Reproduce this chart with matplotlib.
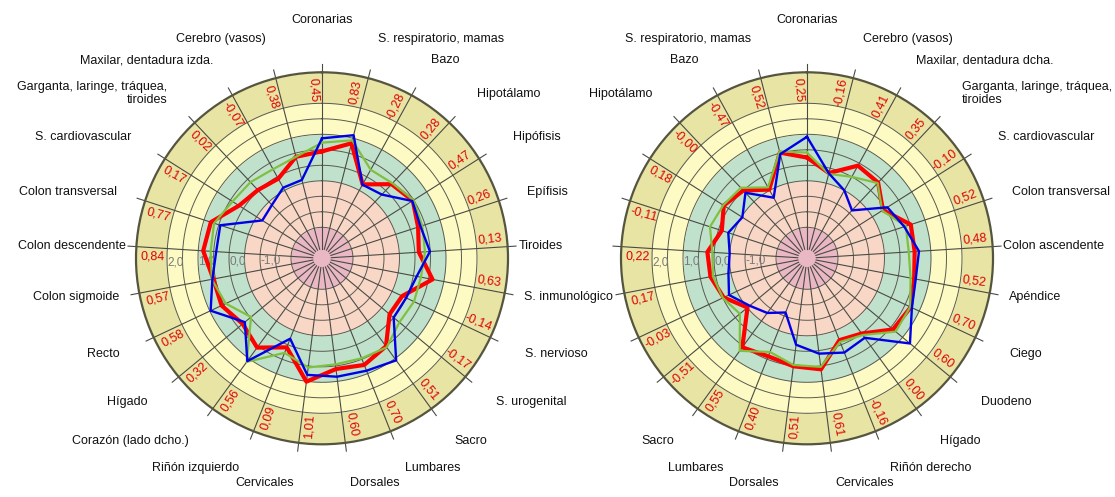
import numpy as np
import matplotlib.pyplot as plt

plt.rcParams['font.family'] = ['Liberation Sans', 'DejaVu Sans']

# left chart: categories clockwise from the top
left_labels = ['Coronarias', 'S. respiratorio, mamas', 'Bazo', 'Hipotálamo', 'Hipófisis',
               'Epífisis', 'Tiroides', 'S. inmunológico', 'S. nervioso', 'S. urogenital',
               'Sacro', 'Lumbares', 'Dorsales', 'Cervicales', 'Riñón izquierdo',
               'Corazón (lado dcho.)', 'Hígado', 'Recto', 'Colon sigmoide', 'Colon descendente',
               'Colon transversal', 'S. cardiovascular', 'Garganta, laringe, tráquea,\ntiroides',
               'Maxilar, dentadura izda.', 'Cerebro (vasos)']
left_red = [0.45, 0.83, -0.28, 0.28, 0.47, 0.26, 0.13, 0.63, -0.14, -0.17, 0.51, 0.70, 0.60,
            1.01, 0.09, 0.56, 0.32, 0.58, 0.57, 0.84, 0.77, 0.17, 0.02, -0.07, 0.38]
left_green = [0.73, 0.93, 0.26, 0.32, 0.50, 0.40, 0.33, 0.25, 0.28, 0.24, 0.55, 0.47, 0.45,
              0.55, 0.28, 1.13, -0.03, 0.43, 0.62, 0.60, 0.66, 0.42, 0.37, 0.28, 0.38]
left_blue = [0.87, 1.10, -0.29, -0.18, 0.45, 0.34, 0.49, 0.11, 0.00, 0.00, 1.07, 0.90, 0.85,
             0.79, -0.21, 1.10, 0.23, 0.97, 0.60, 0.42, 0.45, -0.72, -0.64, -0.40, -0.39]

# right chart
right_labels = ['Coronarias', 'Cerebro (vasos)', 'Maxilar, dentadura dcha.',
                'Garganta, laringe, tráquea,\ntiroides', 'S. cardiovascular', 'Colon transversal',
                'Colon ascendente', 'Apéndice', 'Ciego', 'Duodeno', 'Hígado', 'Riñón derecho',
                'Cervicales', 'Dorsales', 'Lumbares', 'Sacro', 'S. urogenital', 'S. nervioso',
                'S. inmunológico', 'Tiroides', 'Epífisis', 'Hipófisis', 'Hipotálamo', 'Bazo',
                'S. respiratorio, mamas']
right_red = [0.25, -0.16, 0.41, 0.35, -0.10, 0.52, 0.48, 0.52, 0.70, 0.60, 0.00, -0.16, 0.61,
             0.51, 0.40, 0.55, -0.51, -0.03, 0.17, 0.22, -0.11, 0.18, -0.00, -0.47, 0.52]
right_green = [0.41, -0.19, 0.00, 0.33, -0.13, 0.35, 0.29, 0.40, 0.68, 0.71, 0.06, -0.10, 0.53,
               0.47, 0.25, 0.69, -0.19, 0.00, 0.09, 0.06, 0.29, 0.20, 0.12, -0.39, 0.56]
right_blue = [0.92, -0.17, -0.50, -0.88, 0.07, 0.30, 0.62, 0.57, 0.74, 1.31, 0.17, 0.27, 0.10,
              -0.19, -1.12, -0.82, -0.60, -0.22, -0.42, -0.50, -0.33, -0.53, -0.10, -0.77, 0.47]

scale_ticks = [2.0, 1.0, 0.0, -1.0]
band_edges = [-3.0, -2.0, -0.5, 1.0, 2.0, 3.0]
band_colors = ['#e9b8c4', '#f9d7c7', '#c0e2cc', '#fdfbc3', '#e8e4a4']
grid_levels = [-2.0, -1.5, -1.0, -0.5, 0.0, 0.5, 1.0, 1.5, 2.0]


def fmt(v):
    return f'{v:.2f}'.replace('.', ',')


def draw_chart(ax, labels, red, green, blue, hide_left=False):
    n = len(labels)
    theta = np.deg2rad(np.arange(n) * 360.0 / n)
    ax.set_theta_zero_location('N')
    ax.set_theta_direction(-1)
    ax.set_ylim(-3, 3)
    ax.set_xticks([])
    ax.set_yticks([])
    ax.grid(False)
    ax.set_facecolor('none')
    ax.spines['polar'].set_color('#55553f')
    ax.spines['polar'].set_linewidth(1.6)

    # coloured rings
    t = np.linspace(0, 2 * np.pi, 300)
    for lo, hi, c in zip(band_edges[:-1], band_edges[1:], band_colors):
        ax.fill_between(t, lo, hi, color=c, lw=0, zorder=0)
    for g in grid_levels:
        ax.plot(t, np.full_like(t, g), color='#5a5a50', lw=0.7, zorder=1)

    # spokes, sticking out a little past the rim
    for th in theta:
        ax.plot([th, th], [-2.7, 3.27], color='#4a4a44', lw=0.8, zorder=1, clip_on=False)

    # scale numbers
    for v in scale_ticks:
        ax.text(np.deg2rad(268.3), v, fmt(v)[:-1], color='#7a7a7a', fontsize=8.5,
                ha='left', va='center', zorder=2)

    # series
    tc = np.append(theta, theta[0])
    ax.plot(tc, red + red[:1], color='#ff0000', lw=3.0, zorder=3)
    ax.plot(tc, green + green[:1], color='#80c040', lw=1.6, zorder=4)
    ax.plot(tc, blue + blue[:1], color='#0000e6', lw=1.7, zorder=5)

    # red values in the outer band
    for th, v in zip(np.rad2deg(theta), red):
        ang = th - 3.0
        rot = 90 - ang
        while rot > 90:
            rot -= 180
        while rot <= -90:
            rot += 180
        ax.text(np.deg2rad(ang), 2.45, fmt(v), color='#e00000', fontsize=9,
                rotation=rot, rotation_mode='anchor', ha='center', va='center', zorder=6)

    # category names around the chart
    for th, lab in zip(theta, labels):
        s, c = np.sin(th), np.cos(th)
        if hide_left and s < -0.75:
            continue
        rad = 192 + 34 * min(1.0, 2.2 * abs(c))
        if s > 0.12:
            ha = 'left'
        elif s < -0.12:
            ha = 'right'
        else:
            ha = 'center'
            rad += 12
        ax.text(0.5 + rad * s / 372, 0.5 + rad * c / 372, lab, transform=ax.transAxes,
                fontsize=9, ha=ha, va='center', color='#111111', clip_on=False)


fig = plt.figure(figsize=(11.15, 4.97), dpi=100)
W, H = 1115, 497
R = 186
for cx, labels, red, green, blue, hide in [
        (322, left_labels, left_red, left_green, left_blue, False),
        (807, right_labels, right_red, right_green, right_blue, True)]:
    ax = fig.add_axes([(cx - R) / W, (H - 258.3 - R) / H, 2 * R / W, 2 * R / H], projection='polar')
    draw_chart(ax, labels, red, green, blue, hide_left=hide)

fig.savefig('out.png', dpi=100, facecolor='white')
